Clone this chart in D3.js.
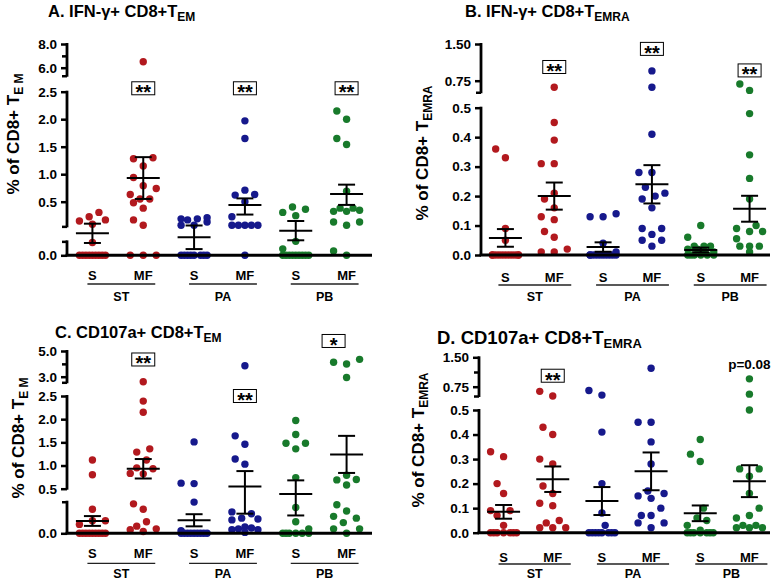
<!DOCTYPE html>
<html>
<head>
<meta charset="utf-8">
<script src="https://cdn.jsdelivr.net/npm/d3@7"></script>
<style>
body { margin: 0; background: #fff; }
svg text { font-family: Arial, "Liberation Sans", sans-serif; font-weight: bold; fill: #000; }
</style>
</head>
<body>
<svg id="chart" width="774" height="580"></svg>
<script>
var tissues = ["ST", "PA", "PB"],
    groups = ["S", "MF"],
    colors = {ST: "#b2191e", PA: "#16198c", PB: "#187a2b"};

// A. IFN-g+ CD8+ TEM  (order: ST-S, ST-MF, PA-S, PA-MF, PB-S, PB-MF)
var ifnEmPoints = [
    [0.40, 0.36, 0.33, 0.32, 0.29, 0.12, 0, 0, 0, 0, 0, 0, 0, 0, 0],
    [6.5, 1.30, 1.28, 1.15, 0.94, 0.79, 0.74, 0.63, 0.55, 0.55, 0.49, 0.44, 0.33, 0.28, 0, 0, 0],
    [0.35, 0.34, 0.34, 0.33, 0.31, 0.28, 0.28, 0, 0, 0, 0, 0, 0, 0, 0],
    [1.97, 1.65, 0.71, 0.63, 0.62, 0.50, 0.36, 0.28, 0.28, 0.28, 0.28, 0.28, 0],
    [0.45, 0.43, 0.40, 0.37, 0.13, 0.06, 0, 0, 0, 0, 0, 0, 0, 0, 0],
    [2.15, 2.00, 1.65, 1.54, 0.69, 0.44, 0.44, 0.42, 0.41, 0.41, 0.31, 0.31, 0.28, 0.04, 0]
];
var ifnEmMean = [0.205, 0.93, 0.168, 0.47, 0.23, 0.64],
    ifnEmSem = [0.09, 0.38, 0.11, 0.09, 0.09, 0.17];

// B. IFN-g+ CD8+ TEMRA
var ifnEmraPoints = [
    [0.36, 0.33, 0.09, 0.05, 0, 0, 0, 0, 0, 0, 0, 0, 0, 0, 0],
    [0.69, 0.45, 0.39, 0.31, 0.31, 0.21, 0.19, 0.16, 0.13, 0.12, 0.08, 0.06, 0.02, 0.01, 0.01],
    [0.14, 0.13, 0.13, 0.04, 0.01, 0, 0, 0, 0, 0, 0, 0, 0, 0, 0],
    [0.95, 0.69, 0.41, 0.28, 0.28, 0.23, 0.21, 0.20, 0.19, 0.16, 0.09, 0.09, 0.07, 0.05, 0.05, 0.03],
    [0.10, 0.06, 0.03, 0.03, 0.03, 0.02, 0.02, 0.01, 0.01, 0, 0, 0, 0, 0, 0],
    [0.72, 0.66, 0.48, 0.34, 0.26, 0.19, 0.10, 0.09, 0.08, 0.08, 0.055, 0.03, 0.03, 0.03, 0.01]
];
var ifnEmraMean = [0.058, 0.20, 0.027, 0.24, 0.017, 0.157],
    ifnEmraSem = [0.03, 0.046, 0.016, 0.065, 0.008, 0.044];

// C. CD107a+ CD8+ TEM
var cdEmPoints = [
    [1.12, 0.80, 0.27, 0.14, 0.14, 0.10, 0, 0, 0, 0, 0, 0, 0, 0, 0],
    [2.87, 2.39, 2.15, 1.36, 1.29, 1.12, 0.95, 0.93, 0.83, 0.82, 0.33, 0.27, 0.13, 0.08, 0.05, 0.04, 0.02],
    [1.51, 0.62, 0.61, 0.35, 0.03, 0, 0, 0, 0, 0, 0, 0, 0, 0],
    [3.85, 1.64, 1.46, 1.14, 1.03, 0.24, 0.22, 0.17, 0.16, 0.15, 0.07, 0.06, 0.05, 0.04, 0.04, 0.01],
    [1.97, 1.67, 1.48, 1.48, 1.36, 0.74, 0.29, 0.13, 0.05, 0, 0, 0, 0, 0, 0],
    [4.35, 4.12, 3.99, 2.98, 0.79, 0.70, 0.69, 0.58, 0.32, 0.25, 0.19, 0.17, 0.12, 0.05, 0.05, 0]
];
var cdEmMean = [0.138, 0.93, 0.146, 0.55, 0.44, 1.24],
    cdEmSem = [0.055, 0.21, 0.068, 0.33, 0.24, 0.40];

// D. CD107a+ CD8+ TEMRA
var cdEmraPoints = [
    [0.33, 0.31, 0.20, 0.16, 0.09, 0.09, 0.07, 0.03, 0, 0, 0, 0, 0, 0, 0],
    [0.70, 0.65, 0.43, 0.40, 0.30, 0.28, 0.19, 0.16, 0.12, 0.11, 0.05, 0.04, 0.02, 0.02, 0.02],
    [0.71, 0.66, 0.41, 0.20, 0.08, 0.03, 0, 0, 0, 0, 0, 0, 0, 0],
    [1.22, 0.45, 0.45, 0.37, 0.28, 0.17, 0.16, 0.15, 0.14, 0.10, 0.07, 0.07, 0.04, 0.04, 0.02],
    [0.38, 0.32, 0.29, 0.10, 0.06, 0.05, 0.03, 0.01, 0, 0, 0, 0, 0, 0, 0],
    [0.95, 0.67, 0.50, 0.26, 0.26, 0.23, 0.16, 0.10, 0.07, 0.06, 0.03, 0.03, 0.02, 0.02, 0.02]
];
var cdEmraMean = [0.085, 0.218, 0.129, 0.25, 0.079, 0.21],
    cdEmraSem = [0.028, 0.052, 0.057, 0.077, 0.032, 0.065];

// axis tick values / labels (broken axes)
var emTicksA = [0, 0.5, 1, 1.5, 2, 2.5, 6, 8],
    emLabelsA = ["0.0", "0.5", "1.0", "1.5", "2.0", "2.5", "6.0", "8.0"],
    emTicksC = [0, 0.5, 1, 1.5, 2, 2.5, 3, 5],
    emLabelsC = ["0.0", "0.5", "1.0", "1.5", "2.0", "2.5", "3.0", "5.0"],
    emraTicks = [0, 0.1, 0.2, 0.3, 0.4, 0.5, 0.75, 1.5],
    emraLabels = ["0.0", "0.1", "0.2", "0.3", "0.4", "0.5", "0.75", "1.50"];

var panels = [
    {title: "A. IFN-\u03b3+ CD8+T", titleSub: "EM", tx: 48, ty: 17, tSize: 16.5, tSub: 12,
     ylabSub: "E M", lx: 19, ly: 134,
     x0: 67, xEnd: 372, xRange: [67, 372],
     yDom: [0, 0.5, 2.5, 6, 8], yPix: [255.3, 201.7, 91.7, 67.7, 44],
     segs: [[0, 0.13], [0.27, 2.5], [4.83, 8]], ticks: emTicksA, labels: emLabelsA,
     minor: [7, 0.13, 0.27, 4.83], subY: 24.7, lineY: 28.7, grpY: 46, lineL: -5, lineR: 12,
     points: ifnEmPoints, mean: ifnEmMean, sem: ifnEmSem,
     marks: [{g: 1, t: "**", v: 3.0, box: true}, {g: 3, t: "**", v: 3.0, box: true}, {g: 5, t: "**", v: 3.0, box: true}]},
    {title: "B. IFN-\u03b3+ CD8+T", titleSub: "EMRA", tx: 465, ty: 17, tSize: 16.5, tSub: 12,
     ylabSub: "EMRA", lx: 428, ly: 153,
     x0: 481, xEnd: 770, xRange: [481, 774],
     yDom: [0, 0.5, 0.75, 1.5], yPix: [255, 107.7, 80.7, 44],
     segs: [[0, 0.5], [0.643, 1.5]], ticks: emraTicks, labels: emraLabels,
     minor: [0.643], subY: 26.7, lineY: 30, grpY: 46.3, lineL: -7, lineR: 17,
     points: ifnEmraPoints, mean: ifnEmraMean, sem: ifnEmraSem,
     marks: [{g: 1, t: "**", v: 1.03, box: true}, {g: 3, t: "**", v: 1.40, box: true}, {g: 5, t: "**", v: 0.96, box: true}]},
    {title: "C. CD107a+ CD8+T", titleSub: "EM", tx: 55, ty: 338, tSize: 16.5, tSub: 12,
     ylabSub: "E M", lx: 24, ly: 438,
     x0: 67, xEnd: 372, xRange: [67, 372],
     yDom: [0, 0.5, 2.5, 3, 5], yPix: [533.3, 488.7, 396, 376.7, 351],
     segs: [[0, 0.354], [0.5, 2.5], [2.855, 5]], ticks: emTicksC, labels: emLabelsC,
     minor: [4, 0.354, 2.855], subY: 25, lineY: 30, grpY: 44.2, lineL: -5, lineR: 12,
     points: cdEmPoints, mean: cdEmMean, sem: cdEmSem,
     marks: [{g: 1, t: "**", v: 4.34, box: true}, {g: 3, t: "**", v: 2.5, box: true}, {g: 5, t: "*", v: 5.78, box: true, dx: -13}]},
    {title: "D. CD107a+ CD8+T", titleSub: "EMRA", tx: 437, ty: 344, tSize: 18.5, tSub: 13,
     ylabSub: "EMRA", lx: 424, ly: 440,
     x0: 479, xEnd: 770, xRange: [479, 774],
     yDom: [0, 0.5, 0.75, 1.5], yPix: [532.7, 410, 386.7, 357.3],
     segs: [[0, 0.5], [0.65, 1.5]], ticks: emraTicks, labels: emraLabels,
     minor: [1.125, 0.65], subY: 29, lineY: 31.3, grpY: 44.8, lineL: -5, lineR: 18,
     points: cdEmraPoints, mean: cdEmraMean, sem: cdEmraSem,
     marks: [{g: 1, t: "**", v: 1.03, box: true}, {g: 5, t: "p=0.08", v: 1.32, box: false}]}
];

var slots = [];
tissues.forEach(function(t) { groups.forEach(function(s) { slots.push(t + "-" + s); }); });

// prism-like scatter: spread points sideways when they collide
function swarm(vals, y, cx) {
    var step = 3.25, sep = 11, placed = [];
    var ks = [0, -1, 1, -2, 2, -3, 3, -4, 4];
    vals.slice().sort(function(a, b) { return a - b; }).forEach(function(v) {
        var py = y(v), best = cx, bestCost = Infinity;
        ks.forEach(function(k) {
            var px = cx + k * step, cost = 0;
            placed.forEach(function(p) {
                var dist = Math.hypot(p.x - px, p.y - py);
                if (dist < sep) cost += (sep - dist) * (sep - dist);
            });
            if (cost < bestCost - 1e-9) { bestCost = cost; best = px; }
        });
        placed.push({x: best, y: py, v: v});
    });
    return placed;
}

var svg = d3.select("#chart");

panels.forEach(function(p) {
    var g = svg.append("g");
    var y = d3.scaleLinear().domain(p.yDom).range(p.yPix);
    var x = d3.scalePoint().domain(slots).range(p.xRange).padding(0.5);
    var y0 = y(0);

    // title
    var tt = g.append("text").attr("x", p.tx).attr("y", p.ty).style("font-size", p.tSize + "px");
    tt.append("tspan").text(p.title);
    tt.append("tspan").attr("dy", 4).style("font-size", p.tSub + "px").text(p.titleSub);

    // y label
    var yl = g.append("text")
        .attr("transform", "translate(" + p.lx + "," + p.ly + ") rotate(-90)")
        .attr("text-anchor", "middle")
        .style("font-size", "17px");
    yl.append("tspan").text("% of CD8+ T");
    yl.append("tspan").attr("dy", 4).style("font-size", "12px").text(p.ylabSub);

    // y axis: broken segments
    g.selectAll(".seg").data(p.segs).enter().append("line")
        .attr("x1", p.x0).attr("x2", p.x0)
        .attr("y1", function(d) { return y(d[0]) + 1; })
        .attr("y2", function(d) { return y(d[1]) - 1; })
        .attr("stroke", "#000").attr("stroke-width", 2.8);

    var ga = g.append("g").attr("transform", "translate(" + p.x0 + ",0)")
        .call(d3.axisLeft(y).tickValues(p.ticks)
            .tickFormat(function(d, i) { return p.labels[i]; })
            .tickSize(6).tickPadding(4));
    ga.select(".domain").remove();
    ga.selectAll("line").attr("stroke", "#000").attr("stroke-width", 2.5);
    ga.selectAll("text").style("font-size", "13.5px");

    var gm = g.append("g").attr("transform", "translate(" + p.x0 + ",0)")
        .call(d3.axisLeft(y).tickValues(p.minor).tickFormat("").tickSize(5));
    gm.select(".domain").remove();
    gm.selectAll("line").attr("stroke", "#000").attr("stroke-width", 2.5);

    // points
    slots.forEach(function(s, i) {
        var col = colors[tissues[Math.floor(i / 2)]];
        var pts = swarm(p.points[i], y, x(s));
        g.append("g").selectAll("circle").data(pts).enter().append("circle")
            .attr("cx", function(d) { return d.x; })
            .attr("cy", function(d) { return d.y; })
            .attr("r", 3.7)
            .attr("fill", col);
    });

    // x baseline
    g.append("line").attr("x1", p.x0 - 1.4).attr("x2", p.xEnd)
        .attr("y1", y0).attr("y2", y0)
        .attr("stroke", "#000").attr("stroke-width", 3);

    // mean +/- SEM
    slots.forEach(function(s, i) {
        var cx = x(s), m = p.mean[i], e = p.sem[i];
        var eb = g.append("g").attr("stroke", "#000").attr("stroke-width", 2);
        eb.append("line").attr("x1", cx).attr("x2", cx).attr("y1", y(m - e)).attr("y2", y(m + e));
        eb.append("line").attr("x1", cx - 16.5).attr("x2", cx + 16.5).attr("y1", y(m)).attr("y2", y(m));
        [m - e, m + e].forEach(function(v) {
            eb.append("line").attr("x1", cx - 8.5).attr("x2", cx + 8.5).attr("y1", y(v)).attr("y2", y(v));
        });
    });

    // S / MF labels, underlines and tissue labels
    slots.forEach(function(s, i) {
        g.append("text").attr("x", x(s)).attr("y", y0 + p.subY)
            .attr("text-anchor", "middle").style("font-size", "13px")
            .text(groups[i % 2]);
    });
    tissues.forEach(function(t) {
        var xa = x(t + "-S") + p.lineL, xb = x(t + "-MF") + p.lineR;
        g.append("line").attr("x1", xa).attr("x2", xb)
            .attr("y1", y0 + p.lineY).attr("y2", y0 + p.lineY)
            .attr("stroke", "#222").attr("stroke-width", 1.3);
        g.append("text").attr("x", (xa + xb) / 2).attr("y", y0 + p.grpY)
            .attr("text-anchor", "middle").style("font-size", "12.5px").text(t);
    });

    // significance marks
    p.marks.forEach(function(m) {
        var cx = x(slots[m.g]) + (m.dx || 0), cy = y(m.v);
        if (m.box) {
            g.append("rect").attr("x", cx - 11.5).attr("y", cy - 6.5)
                .attr("width", 23).attr("height", 13)
                .attr("fill", "#fff").attr("stroke", "#000").attr("stroke-width", 1);
            g.append("text").attr("x", cx).attr("y", cy + 11)
                .attr("text-anchor", "middle").style("font-size", "20px").text(m.t);
        } else {
            g.append("text").attr("x", cx).attr("y", cy + 4.6)
                .attr("text-anchor", "middle").style("font-size", "13.5px").text(m.t);
        }
    });
});
</script>
</body>
</html>
